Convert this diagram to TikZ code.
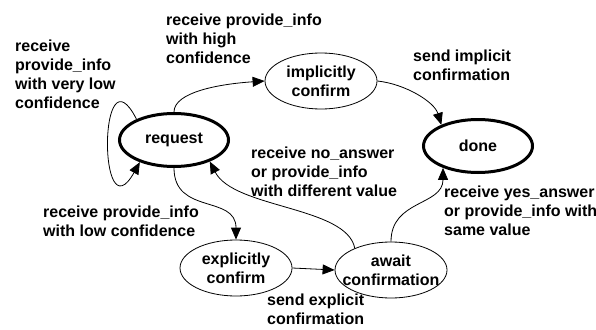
\documentclass[tikz,border=0pt]{standalone}
\usepackage{fontspec}
\setmainfont{Liberation Sans}
\usepackage{tikz}
\usetikzlibrary{arrows.meta}
\usetikzlibrary{positioning}
\usetikzlibrary{shapes.geometric}
\tikzset{
  every node/.style={font=\fontsize{16}{19}\selectfont\bfseries},
  stnode/.style={ellipse, draw, line width=0.8pt, minimum width=112pt, minimum height=56pt, inner xsep=-14pt, inner ysep=0pt, align=center},
  endnode/.style={stnode, line width=3pt, minimum width=109pt, minimum height=53pt},
  lbl/.style={align=left, anchor=north west, inner sep=0pt},
  trans/.style={-{Triangle[length=12pt,width=10pt]}, line width=0.8pt}
}
\begin{document}
\begin{tikzpicture}[x=1pt,y=-1pt]
      \useasboundingbox (0,0) rectangle (596,329);
      \node[endnode] (request) at (174,140) {request} ;
      \node[stnode] (implicit) at (321,81) {implicitly\\confirm} ;
      \node[endnode] (done) at (478,146) {done} ;
      \node[stnode] (explicit) at (236,268) {explicitly\\confirm} ;
      \node[stnode] (await) at (391,270) {await\\confirmation} ;
      \node[lbl] (lblLoop) at (15,40) {receive\\provide\_info\\with very low\\confidence} ;
      \node[lbl] (lblHigh) at (166,14) {receive provide\_info\\with high\\confidence} ;
      \node[lbl] (lblImplicit) at (413,50) {send implicit\\confirmation} ;
      \node[lbl] (lblNo) at (251,147) {receive no\_answer\\or provide\_info\\with different value} ;
      \node[lbl] (lblYes) at (444,186) {receive yes\_answer\\or provide\_info with\\same value} ;
      \node[lbl] (lblLow) at (43,206) {receive provide\_info\\with low confidence} ;
      \node[lbl] (lblExplicit) at (267,294) {send explicit\\confirmation} ;
      \draw [trans] (request.151) .. controls +(-38,-75) and +(-42,75) .. (request.213) ;
      \draw [trans] (request.north) .. controls +(0,-20) and +(-45,3) .. (implicit.west) ;
      \draw [trans] (implicit.east) .. controls +(28,3) and +(-7,-23) .. (done.150) ;
      \draw [trans] (request.south) .. controls +(0,47) and +(0,-45) .. (explicit.north) ;
      \draw [trans] (explicit.east) -- (await.west) ;
      \draw [trans] (await.149) .. controls +(-8,-42) and +(24,47) .. (request.329) ;
      \draw [trans] (await.north) .. controls +(0,-42) and +(0,38) .. (done.212) ;
    \end{tikzpicture}
\end{document}
